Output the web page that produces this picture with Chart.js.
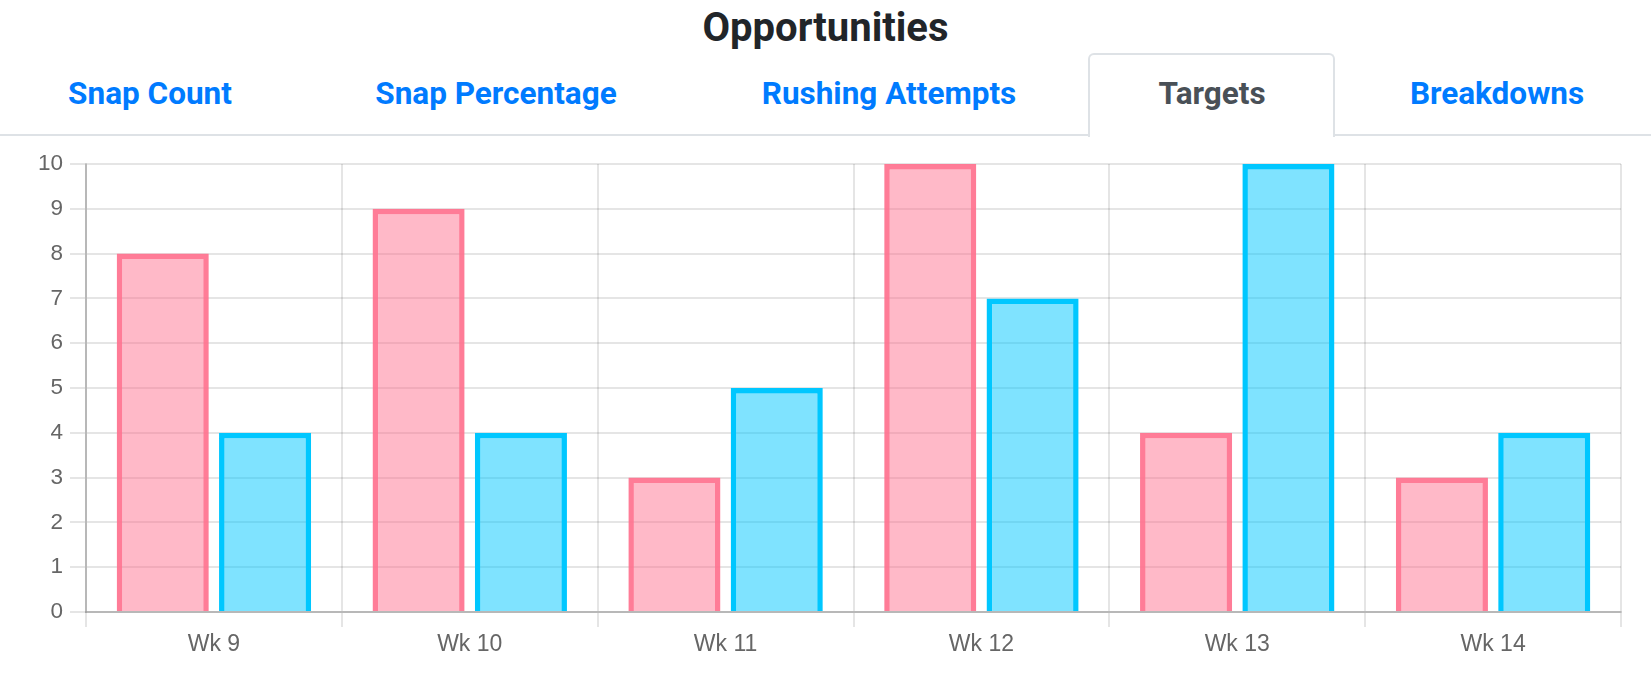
<!DOCTYPE html>
<html>
<head>
<meta charset="utf-8">
<script src="https://cdn.jsdelivr.net/npm/chart.js@4/dist/chart.umd.min.js"></script>
<style>
  html, body { margin: 0; padding: 0; background: #fff; }
  body { width: 1651px; height: 680px; position: relative; overflow: hidden; font-family: Roboto, "Noto Sans", sans-serif; }
  #title { position: absolute; left: 0; top: 0; width: 1651px; height: 56px; line-height: 56px; text-align: center; font-size: 40px; font-weight: 700; color: #212529; }
  #tabline { position: absolute; left: 0; top: 134px; width: 1651px; height: 2px; background: #dee2e6; }
  #activeTab { position: absolute; left: 1088px; top: 53px; width: 243px; height: 82px; border: 2px solid #dee2e6; border-bottom: none; border-radius: 6px 6px 0 0; background: #fff; }
  .tab { position: absolute; top: 74px; height: 40px; line-height: 40px; font-size: 31.5px; font-weight: 700; color: #007bff; white-space: nowrap; transform: translateX(-50%); }
  .tab.active { color: #495057; }
  #wrap { position: absolute; left: 0; top: 140px; width: 1651px; height: 540px; }
</style>
</head>
<body>
<div id="title">Opportunities</div>
<div id="tabline"></div>
<div id="activeTab"></div>
<div class="tab" style="left:150px">Snap Count</div>
<div class="tab" style="left:496px">Snap Percentage</div>
<div class="tab" style="left:889px">Rushing Attempts</div>
<div class="tab active" style="left:1212px">Targets</div>
<div class="tab" style="left:1497px">Breakdowns</div>
<div id="wrap"><canvas id="c" width="1651" height="540"></canvas></div>
<script>
const categories = ["Wk 9", "Wk 10", "Wk 11", "Wk 12", "Wk 13", "Wk 14"];
const seriesA = [8, 9, 3, 10, 4, 3];
const seriesB = [4, 4, 5, 7, 10, 4];
const yTicks = [0, 1, 2, 3, 4, 5, 6, 7, 8, 9, 10];

const ctx = document.getElementById('c').getContext('2d');
new Chart(ctx, {
  type: 'bar',
  data: {
    labels: categories,
    datasets: [
      {
        label: 'A',
        data: seriesA,
        backgroundColor: 'rgba(255,99,132,0.45)',
        borderColor: 'rgba(255,110,140,0.9)',
        borderWidth: 5.5
      },
      {
        label: 'B',
        data: seriesB,
        backgroundColor: 'rgba(0,200,255,0.5)',
        borderColor: 'rgb(0,199,255)',
        borderWidth: 5.5
      }
    ]
  },
  options: {
    responsive: false,
    animation: false,
    devicePixelRatio: 1,
    layout: { padding: { top: 24, right: 30, left: 0, bottom: 0 } },
    plugins: { legend: { display: false }, tooltip: { enabled: false }, title: { display: false } },
    scales: {
      x: {
        grid: { color: 'rgba(0,0,0,0.1)', lineWidth: 2, tickLength: 15, offset: true },
        border: { color: 'rgba(0,0,0,0.2)', width: 2 },
        ticks: { color: '#666', font: { family: '"Liberation Sans", Arial, sans-serif', size: 23 }, padding: 4 },
        afterFit: (s) => { s.height = 68; }
      },
      y: {
        min: yTicks[0],
        max: yTicks[yTicks.length - 1],
        afterBuildTicks: (s) => { s.ticks = yTicks.map(v => ({ value: v })); },
        grid: { color: 'rgba(0,0,0,0.1)', lineWidth: 2, tickLength: 16 },
        border: { color: 'rgba(0,0,0,0.2)', width: 2 },
        ticks: { color: '#666', font: { family: '"Liberation Sans", Arial, sans-serif', size: 22.5 }, padding: 7 },
        afterFit: (s) => { s.width = 86; }
      }
    }
  }
});
</script>
</body>
</html>
